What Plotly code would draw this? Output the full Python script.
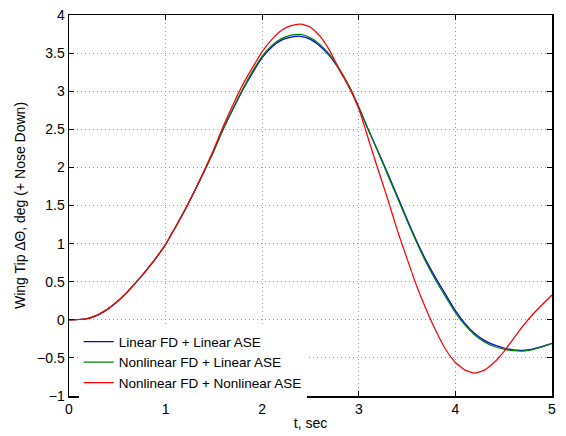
import plotly.graph_objects as go

t = [0.0, 0.1, 0.2, 0.3, 0.4, 0.5, 0.6, 0.7, 0.8, 0.9,
     1.0, 1.1, 1.2, 1.3, 1.4, 1.5, 1.6, 1.7, 1.8, 1.9,
     2.0, 2.1, 2.2, 2.3, 2.4, 2.5, 2.6, 2.7, 2.8, 2.9,
     3.0, 3.1, 3.2, 3.3, 3.4, 3.5, 3.6, 3.7, 3.8, 3.9,
     4.0, 4.1, 4.2, 4.3, 4.4, 4.5, 4.6, 4.7, 4.8, 4.9, 5.0]

linear_fd_linear_ase = [0.0, 0.004, 0.02, 0.065, 0.14, 0.24, 0.36, 0.50, 0.65, 0.81,
                        0.99, 1.21, 1.44, 1.69, 1.95, 2.22, 2.51, 2.77, 3.02, 3.24,
                        3.44, 3.58, 3.67, 3.71, 3.72, 3.68, 3.59, 3.46, 3.28, 3.06,
                        2.79, 2.49, 2.21, 1.92, 1.62, 1.32, 1.03, 0.77, 0.54, 0.33,
                        0.12, -0.05, -0.18, -0.27, -0.33, -0.37, -0.395, -0.40, -0.385, -0.35, -0.31]

nonlinear_fd_linear_ase = [0.0, 0.004, 0.02, 0.065, 0.14, 0.24, 0.36, 0.50, 0.65, 0.81,
                           0.99, 1.21, 1.44, 1.69, 1.95, 2.22, 2.52, 2.78, 3.03, 3.26,
                           3.46, 3.60, 3.69, 3.735, 3.745, 3.70, 3.61, 3.475, 3.29, 3.065,
                           2.79, 2.49, 2.20, 1.90, 1.60, 1.30, 1.01, 0.745, 0.51, 0.30,
                           0.095, -0.07, -0.20, -0.29, -0.35, -0.385, -0.405, -0.41, -0.39, -0.355, -0.31]

nonlinear_fd_nonlinear_ase = [0.0, 0.004, 0.02, 0.065, 0.14, 0.24, 0.36, 0.50, 0.65, 0.81,
                              0.99, 1.21, 1.44, 1.69, 1.96, 2.24, 2.55, 2.83, 3.09, 3.31,
                              3.52, 3.68, 3.80, 3.86, 3.88, 3.84, 3.72, 3.53, 3.28, 3.05,
                              2.77, 2.37, 1.97, 1.58, 1.17, 0.80, 0.44, 0.13, -0.15, -0.39,
                              -0.56, -0.66, -0.70, -0.66, -0.56, -0.42, -0.25, -0.08, 0.07, 0.20, 0.325]

series_names = ["Linear FD + Linear ASE", "Nonlinear FD + Linear ASE", "Nonlinear FD + Nonlinear ASE"]
series_colors = ["#0000ff", "#008000", "#ff0000"]

x_ticks = [0, 1, 2, 3, 4, 5]
y_ticks = [-1, -0.5, 0, 0.5, 1, 1.5, 2, 2.5, 3, 3.5, 4]
y_tick_labels = ["\u22121", "\u22120.5", "0", "0.5", "1", "1.5", "2", "2.5", "3", "3.5", "4"]

fig = go.Figure()
for name, ys, col in zip(series_names,
                         [linear_fd_linear_ase, nonlinear_fd_linear_ase, nonlinear_fd_nonlinear_ase],
                         series_colors):
    fig.add_trace(go.Scatter(x=t, y=ys, mode="lines", name=name,
                             line=dict(color=col, width=1.25, shape="spline", smoothing=0.5)))

font = "Liberation Sans, Arial, Helvetica, sans-serif"
axis_common = dict(
    showline=True, linecolor="black", linewidth=1.5, mirror="ticks",
    ticks="inside", ticklen=5, tickwidth=1, tickcolor="black",
    showgrid=True, gridcolor="#9a9a9a", griddash="1px,3px", gridwidth=1,
    zeroline=False, automargin=False,
    tickfont=dict(family=font, size=14, color="black"),
)

fig.update_layout(
    width=566, height=436,
    margin=dict(l=69, r=14, t=15, b=40),
    paper_bgcolor="white", plot_bgcolor="white",
    font=dict(family=font, size=14, color="black"),
    xaxis=dict(range=[0, 5], tickvals=x_ticks, ticktext=[str(v) for v in x_ticks],
               title=dict(text="t, sec", font=dict(family=font, size=14), standoff=2),
               **axis_common),
    yaxis=dict(range=[-1, 4], tickvals=y_ticks, ticktext=y_tick_labels,
               title=dict(text="Wing Tip \u0394\u0398, deg (+ Nose Down)", font=dict(family=font, size=14), standoff=8),
               **axis_common),
    legend=dict(x=0.02, y=-0.006, xanchor="left", yanchor="bottom",
                bgcolor="white", borderwidth=0, tracegroupgap=0,
                font=dict(family=font, size=13.5, color="black"),
                itemwidth=30),
    showlegend=True,
)

fig.write_html("out.html", config={"displayModeBar": False, "staticPlot": True},
               post_script="document.body.style.margin='0';document.body.style.padding='0';")
